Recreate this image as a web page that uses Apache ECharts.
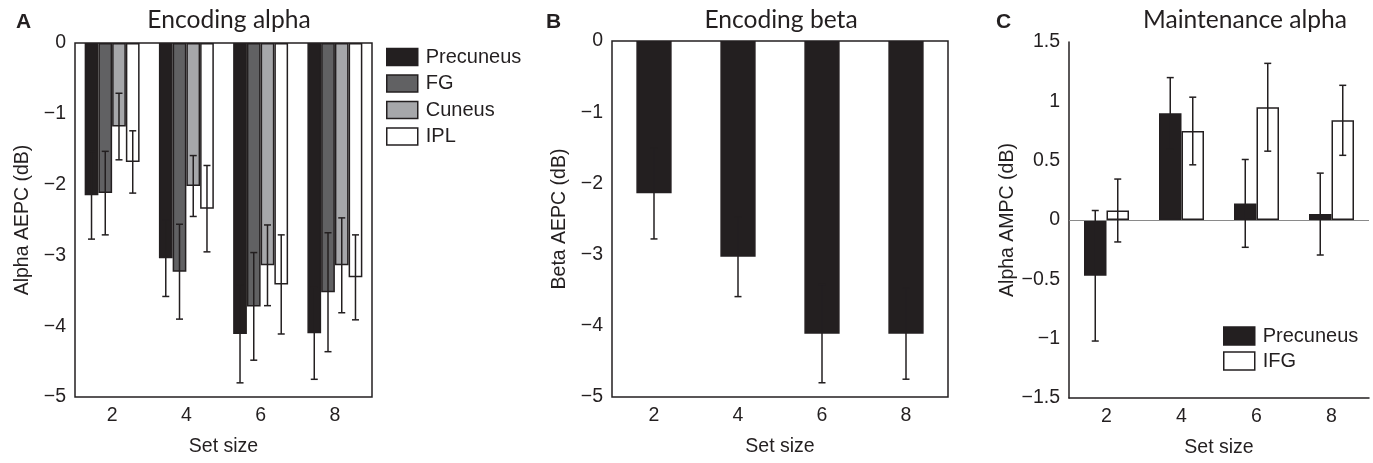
<!DOCTYPE html>
<html>
<head>
<meta charset="utf-8">
<script src="https://cdn.jsdelivr.net/npm/echarts@6/dist/echarts.min.js"></script>
<style>
html, body { margin: 0; padding: 0; background: #fff; }
#main { width: 1373px; height: 463px; }
</style>
</head>
<body>
<div id="main"></div>
<script>
// x axis categories (same for all three panels)
const setSizes = ['2', '4', '6', '8'];

// y axis ticks
const ticksEncoding = [0, -1, -2, -3, -4, -5];
const ticksMaint = [1.5, 1, 0.5, 0, -0.5, -1, -1.5];

// A - encoding alpha, mean + error (half length)
const alphaPrecuneus = [-2.15, -3.04, -4.11, -4.10];
const alphaPrecuneusErr = [0.62, 0.54, 0.69, 0.65];
const alphaFG = [-2.12, -3.23, -3.72, -3.52];
const alphaFGErr = [0.59, 0.67, 0.76, 0.84];
const alphaCuneus = [-1.18, -2.02, -3.14, -3.14];
const alphaCuneusErr = [0.47, 0.43, 0.57, 0.67];
const alphaIPL = [-1.68, -2.34, -3.41, -3.31];
const alphaIPLErr = [0.44, 0.61, 0.70, 0.60];

// B - encoding beta
const betaPrecuneus = [-2.14, -3.03, -4.11, -4.11];
const betaPrecuneusErr = [0.64, 0.56, 0.69, 0.64];

// C - maintenance alpha
const maintPrecuneus = [-0.47, 0.90, 0.14, 0.05];
const maintPrecuneusErr = [0.55, 0.30, 0.37, 0.345];
const maintIFG = [0.08, 0.75, 0.95, 0.84];
const maintIFGErr = [0.265, 0.285, 0.37, 0.295];

const ink = '#231f20';
const sans = 'Liberation Sans';

function tickRange(t) {
  return { min: Math.min(...t), max: Math.max(...t), interval: Math.abs(t[0] - t[1]) };
}

function minus(v) {
  return String(v).replace('-', '\u2212');
}

function barSeries(name, data, idx, color, gap) {
  return {
    name: name,
    type: 'bar',
    xAxisIndex: idx,
    yAxisIndex: idx,
    data: data,
    barGap: '0%',
    barCategoryGap: gap,
    itemStyle: { color: color, borderColor: ink, borderWidth: 1.5 },
    emphasis: { disabled: true }
  };
}

// error bars sit on the middle of each bar of a group
function errSeries(key, vals, errs, idx, slot, count, gap) {
  return {
    name: key,
    type: 'custom',
    xAxisIndex: idx,
    yAxisIndex: idx,
    z: 5,
    data: vals.map((v, i) => [i, v, errs[i]]),
    renderItem: function (params, api) {
      const i = api.value(0), v = api.value(1), e = api.value(2);
      const band = api.size([1, 0])[0];
      const barW = band * (1 - gap) / count;
      const dx = (slot - (count - 1) / 2) * barW;
      const hi = api.coord([i, v + e]);
      const lo = api.coord([i, v - e]);
      const x = hi[0] + dx;
      const cap = 3.5;
      const style = { stroke: ink, lineWidth: 1.5 };
      return {
        type: 'group',
        children: [
          { type: 'line', shape: { x1: x, y1: hi[1], x2: x, y2: lo[1] }, style: style },
          { type: 'line', shape: { x1: x - cap, y1: hi[1], x2: x + cap, y2: hi[1] }, style: style },
          { type: 'line', shape: { x1: x - cap, y1: lo[1], x2: x + cap, y2: lo[1] }, style: style }
        ]
      };
    }
  };
}

function xAx(idx, showLine) {
  return {
    type: 'category',
    gridIndex: idx,
    data: setSizes,
    name: 'Set size',
    nameLocation: 'middle',
    nameGap: 40,
    nameTextStyle: { fontFamily: sans, fontSize: 19.5, color: ink },
    axisLine: { show: showLine, onZero: false, lineStyle: { color: ink, width: 1.5 } },
    axisTick: { show: false },
    axisLabel: { fontFamily: sans, fontSize: 19.5, color: ink, margin: 9 }
  };
}

function yAx(idx, ticks, name, showLine) {
  const r = tickRange(ticks);
  return {
    type: 'value',
    gridIndex: idx,
    min: r.min,
    max: r.max,
    interval: r.interval,
    name: name,
    nameLocation: 'middle',
    nameGap: 42,
    nameTextStyle: { fontFamily: sans, fontSize: 19.5, color: ink },
    axisLine: { show: showLine, lineStyle: { color: ink, width: 1.5 } },
    axisTick: { show: false },
    splitLine: { show: false },
    axisLabel: { fontFamily: sans, fontSize: 19.5, color: ink, margin: 9, formatter: minus }
  };
}

const chart = echarts.init(document.getElementById('main'));

const titleStyle = { fontFamily: 'Lato', fontSize: 24.6, fontWeight: 'normal', color: ink };
const letterStyle = { fontFamily: sans, fontSize: 21, fontWeight: 'bold', color: ink };

const option = {
  animation: false,
  backgroundColor: '#fff',
  title: [
    { text: 'Encoding alpha', left: 224, top: 3, textAlign: 'center', textStyle: titleStyle },
    { text: 'Encoding beta', left: 776, top: 3, textAlign: 'center', textStyle: titleStyle },
    { text: 'Maintenance alpha', left: 1240, top: 3, textAlign: 'center', textStyle: titleStyle },
    { text: 'A', left: 11, top: 7, textStyle: letterStyle },
    { text: 'B', left: 541, top: 7, textStyle: letterStyle },
    { text: 'C', left: 991, top: 7, textStyle: letterStyle }
  ],
  legend: [
    {
      data: ['Precuneus', 'FG', 'Cuneus', 'IPL'],
      orient: 'vertical',
      left: 386,
      top: 47,
      padding: 0,
      itemWidth: 31,
      itemHeight: 17,
      itemGap: 6.5,
      icon: 'rect',
      itemStyle: { borderColor: ink, borderWidth: 1.5 },
      textStyle: { fontFamily: sans, fontSize: 20, color: ink, padding: [0, 0, 0, 3] },
      selectedMode: false
    },
    {
      data: ['Precuneus', 'IFG'],
      orient: 'vertical',
      left: 1223,
      top: 326,
      padding: 0,
      itemWidth: 31,
      itemHeight: 18,
      itemGap: 5,
      icon: 'rect',
      itemStyle: { borderColor: ink, borderWidth: 1.5 },
      textStyle: { fontFamily: sans, fontSize: 20, color: ink, padding: [0, 0, 0, 3] },
      selectedMode: false
    }
  ],
  grid: [
    { left: 75, top: 43, width: 297, height: 354, show: true, borderColor: ink, borderWidth: 1.5, backgroundColor: 'transparent' },
    { left: 612, top: 41, width: 336, height: 356, show: true, borderColor: ink, borderWidth: 1.5, backgroundColor: 'transparent' },
    { left: 1069, top: 42, width: 300, height: 356 }
  ],
  xAxis: [xAx(0, false), xAx(1, false), xAx(2, true)],
  yAxis: [
    yAx(0, ticksEncoding, 'Alpha AEPC (dB)', false),
    yAx(1, ticksEncoding, 'Beta AEPC (dB)', false),
    yAx(2, ticksMaint, 'Alpha AMPC (dB)', true)
  ],
  series: [
    barSeries('Precuneus', alphaPrecuneus, 0, ink, '26%'),
    barSeries('FG', alphaFG, 0, '#616163', '26%'),
    barSeries('Cuneus', alphaCuneus, 0, '#a6a7aa', '26%'),
    barSeries('IPL', alphaIPL, 0, '#ffffff', '26%'),
    errSeries('errA1', alphaPrecuneus, alphaPrecuneusErr, 0, 0, 4, 0.26),
    errSeries('errA2', alphaFG, alphaFGErr, 0, 1, 4, 0.26),
    errSeries('errA3', alphaCuneus, alphaCuneusErr, 0, 2, 4, 0.26),
    errSeries('errA4', alphaIPL, alphaIPLErr, 0, 3, 4, 0.26),

    barSeries('Precuneus', betaPrecuneus, 1, ink, '58%'),
    errSeries('errB1', betaPrecuneus, betaPrecuneusErr, 1, 0, 1, 0.58),

    Object.assign(barSeries('Precuneus', maintPrecuneus, 2, ink, '40%'), {
      markLine: {
        silent: true,
        symbol: 'none',
        label: { show: false },
        lineStyle: { color: '#8a8a8a', width: 1, type: 'solid' },
        data: [{ yAxis: 0 }]
      }
    }),
    barSeries('IFG', maintIFG, 2, '#ffffff', '40%'),
    errSeries('errC1', maintPrecuneus, maintPrecuneusErr, 2, 0, 2, 0.40),
    errSeries('errC2', maintIFG, maintIFGErr, 2, 1, 2, 0.40)
  ]
};

chart.setOption(option);
</script>
</body>
</html>
